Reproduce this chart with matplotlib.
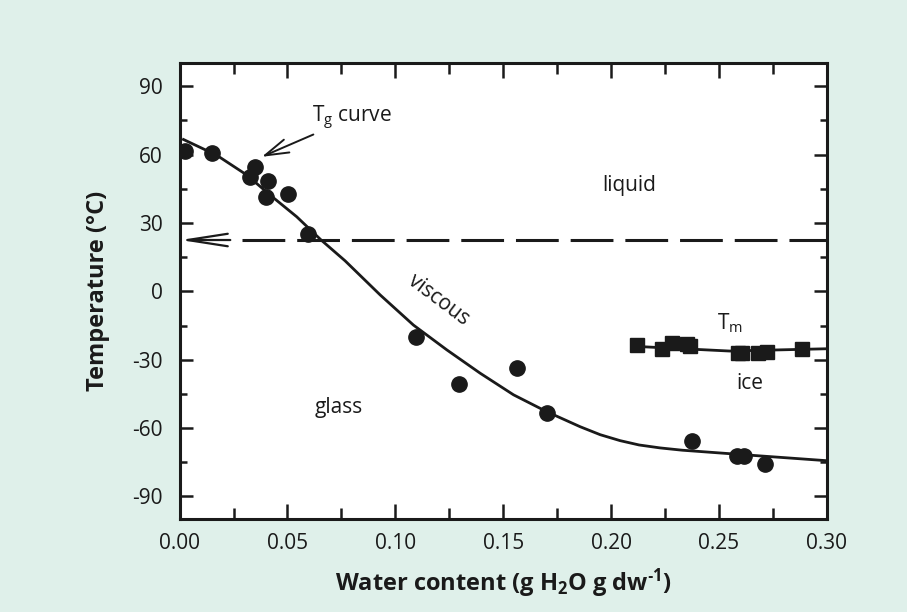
import matplotlib
matplotlib.use('Agg')
import matplotlib.pyplot as plt
from matplotlib.ticker import MultipleLocator, FormatStrFormatter

# measured glass transition temperatures (circles)
tg_water = [0.0025, 0.0149, 0.0350, 0.0327, 0.0412, 0.0401, 0.0504, 0.0597,
            0.1097, 0.1297, 0.1566, 0.1702, 0.2375, 0.2583, 0.2617, 0.2714]
tg_temp = [61.4, 60.8, 54.6, 50.2, 48.2, 41.3, 42.5, 25.0,
           -19.9, -40.8, -33.7, -53.2, -65.5, -72.2, -72.2, -75.8]

# Tg curve through the data
curve_water = [0.0018, 0.0172, 0.0312, 0.0420, 0.0543, 0.0655, 0.0767, 0.0930,
               0.1084, 0.1239, 0.1393, 0.1548, 0.1702, 0.1857, 0.1950, 0.2042,
               0.2130, 0.2228, 0.2330, 0.2460, 0.2691, 0.3000]
curve_temp = [66.6, 59.7, 51.0, 42.2, 32.7, 22.6, 13.4, -1.6,
              -14.8, -25.7, -35.9, -45.4, -52.8, -59.4, -62.9, -65.5,
              -67.4, -68.7, -69.7, -70.6, -72.2, -74.3]

# melting temperatures Tm (squares) and their line
tm_water = [0.2122, 0.2236, 0.2282, 0.2352, 0.2366, 0.2590, 0.2606, 0.2683,
            0.2722, 0.2885]
tm_temp = [-23.5, -25.4, -22.8, -23.2, -24.0, -27.2, -27.2, -27.2,
           -26.5, -25.4]
tm_line_water = [0.2122, 0.2550, 0.3000]
tm_line_temp = [-24.2, -26.2, -25.2]

room_temp = 22.5

plt.rcParams['font.family'] = ['Open Sans', 'DejaVu Sans']
plt.rcParams['mathtext.fontset'] = 'custom'
plt.rcParams['mathtext.rm'] = 'Open Sans'
plt.rcParams['mathtext.it'] = 'Open Sans:italic'
plt.rcParams['mathtext.bf'] = 'Open Sans:bold'
plt.rcParams['axes.unicode_minus'] = False

bg = '#dff0ea'
ink = '#1a1a1a'

fig = plt.figure(figsize=(9.07, 6.12), dpi=100, facecolor=bg)
ax = fig.add_axes([0.198, 0.1515, 0.7135, 0.745])
ax.set_facecolor('white')

ax.plot(curve_water, curve_temp, color=ink, lw=2.0, zorder=2)
ax.plot(tg_water, tg_temp, 'o', color=ink, ms=11, zorder=3)
ax.plot(tm_line_water, tm_line_temp, color=ink, lw=2.0, zorder=2)
ax.plot(tm_water, tm_temp, 's', color=ink, ms=9.5, zorder=3)

# room temperature line with arrow to the axis
ax.plot([0.0288, 0.30], [room_temp, room_temp], color=ink, lw=2.2,
        linestyle=(0, (14.0, 3.9)), zorder=2)
ax.annotate('', xy=(0.0003, room_temp), xytext=(0.0235, room_temp),
            arrowprops=dict(arrowstyle='->,head_length=2.9,head_width=0.45',
                            color=ink, lw=1.6, mutation_scale=10,
                            shrinkA=0, shrinkB=0))

# Tg curve callout
ax.annotate('T$_\\mathrm{g}$ curve', xy=(0.0381, 59.0), xytext=(0.0615, 70.0),
            fontsize=15, color=ink, ha='left', va='bottom',
            arrowprops=dict(arrowstyle='->,head_length=1.7,head_width=0.5',
                            color=ink, lw=1.4, mutation_scale=10,
                            shrinkA=0, shrinkB=0))

ax.text(0.2084, 46.6, 'liquid', fontsize=15, color=ink, ha='center', va='center')
ax.text(0.1200, -3.8, 'viscous', fontsize=15, color=ink, ha='center',
        va='center', rotation=-37)
ax.text(0.0739, -50.8, 'glass', fontsize=15, color=ink, ha='center', va='center')
ax.text(0.2645, -40.3, 'ice', fontsize=15, color=ink, ha='center', va='center')
ax.text(0.2550, -14.0, 'T$_\\mathrm{m}$', fontsize=15, color=ink, ha='center',
        va='center')

ax.set_xlim(0, 0.30)
ax.set_ylim(-100, 100)
ax.xaxis.set_major_locator(MultipleLocator(0.05))
ax.xaxis.set_minor_locator(MultipleLocator(0.025))
ax.xaxis.set_major_formatter(FormatStrFormatter('%.2f'))
ax.yaxis.set_major_locator(MultipleLocator(30))
ax.yaxis.set_minor_locator(MultipleLocator(15))
ax.set_yticks([-90, -60, -30, 0, 30, 60, 90])

ax.tick_params(axis='both', which='both', direction='in', top=True,
               right=True, colors=ink, width=1.8)
ax.tick_params(axis='x', which='major', length=11, pad=10, labelsize=15)
ax.tick_params(axis='x', which='minor', length=8)
ax.tick_params(axis='y', which='major', length=9.5, pad=12, labelsize=15)
ax.tick_params(axis='y', which='minor', length=5)
for s in ax.spines.values():
    s.set_linewidth(2.2)
    s.set_color(ink)

ax.set_xlabel('Water content (g H$_\\mathbf{2}$O g dw$^\\mathbf{\u20101}$)',
              fontsize=17, fontweight='bold', color=ink, labelpad=9)
ax.set_ylabel('Temperature (°C)', fontsize=17, fontweight='bold', color=ink,
              labelpad=16)

fig.savefig('out.png', dpi=100, facecolor=bg)
